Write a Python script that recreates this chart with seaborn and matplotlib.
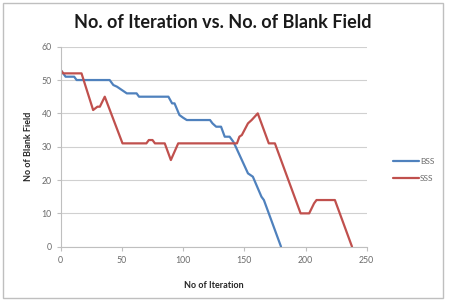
import numpy as np
import pandas as pd
import matplotlib
matplotlib.use("Agg")
import matplotlib.pyplot as plt
from matplotlib.patches import Rectangle
import seaborn as sns

# breakpoints (iteration, blank fields)
bss_iter = [0, 4, 11, 13, 40, 43, 46, 50, 54, 62, 64, 88, 91, 93, 97, 100, 103,
            122, 124, 127, 131, 134, 138, 141, 143, 153, 157, 164, 166, 180]
bss_blank = [53, 51, 51, 50, 50, 48.5, 48, 47, 46, 46, 45, 45, 43, 43, 39.5, 38.7, 38,
             38, 37, 36, 36, 33, 33, 31.5, 30, 22, 21, 15, 14, 0]

sss_iter = [0, 2, 17, 26.5, 30, 32, 36, 50.5, 70, 72, 75, 77, 85, 90, 96, 144, 146,
            148, 153, 156, 161, 170, 175, 196, 203, 207, 209, 224, 238]
sss_blank = [53, 52, 52, 41, 42, 42, 45, 31, 31, 32, 32, 31, 31, 26, 31, 31, 33,
             33.5, 37, 38, 40, 31, 31, 10, 10, 13, 14, 14, 0]

x_ticks = [0, 50, 100, 150, 200, 250]
y_ticks = [0, 10, 20, 30, 40, 50, 60]

df = pd.concat([
    pd.DataFrame({'iter': bss_iter, 'blank': bss_blank, 'series': 'BSS'}),
    pd.DataFrame({'iter': sss_iter, 'blank': sss_blank, 'series': 'SSS'}),
])

sns.set_style("white")
plt.rcParams['font.family'] = ['Lato', 'DejaVu Sans']

fig = plt.figure(figsize=(4.49, 3.0), dpi=100)
fig.patches.append(Rectangle((3 / 449, 2 / 300), 440 / 449, 295 / 300, transform=fig.transFigure,
                             fill=False, edgecolor='#bfbfbf', linewidth=1))
ax = fig.add_axes([60.7 / 449, 1 - 246.7 / 300, 306 / 449, 200 / 300])

sns.lineplot(data=df, x='iter', y='blank', hue='series', sort=False, estimator=None,
             palette={'BSS': '#4f81bd', 'SSS': '#c0504d'}, linewidth=1.6, ax=ax)

ax.set_xlim(0, 250)
ax.set_ylim(0, 60)
ax.set_xticks(x_ticks)
ax.set_yticks(y_ticks)
ax.yaxis.grid(True, color='#d0d0d0', linewidth=0.8)
ax.xaxis.grid(False)
for s in ['top', 'right']:
    ax.spines[s].set_visible(False)
for s in ['left', 'bottom']:
    ax.spines[s].set_color('#bfbfbf')
    ax.spines[s].set_linewidth(0.8)
ax.tick_params(axis='both', labelsize=6.3, colors='#bfbfbf', labelcolor='#6b6b6b',
               length=3, width=0.8, direction='out', left=True, bottom=True)

ax.set_xlabel('No of Iteration', fontsize=6.5, fontweight='bold', color='#262626', labelpad=12)
ax.set_ylabel('No of Blank Field', fontsize=6.5, fontweight='bold', color='#262626', labelpad=6)
fig.text(223 / 449, 1 - 22 / 300, 'No. of Iteration vs. No. of Blank Field', ha='center',
         va='center', fontsize=13, fontweight='bold', color='#1a1a1a')

leg = ax.legend(loc='center left', bbox_to_anchor=(1.06, 0.385), frameon=False, fontsize=6,
                handlelength=3.2, handletextpad=0.1, labelspacing=1.2)
for t in leg.get_texts():
    t.set_color('#6b6b6b')

fig.savefig('out.png', dpi=100)
